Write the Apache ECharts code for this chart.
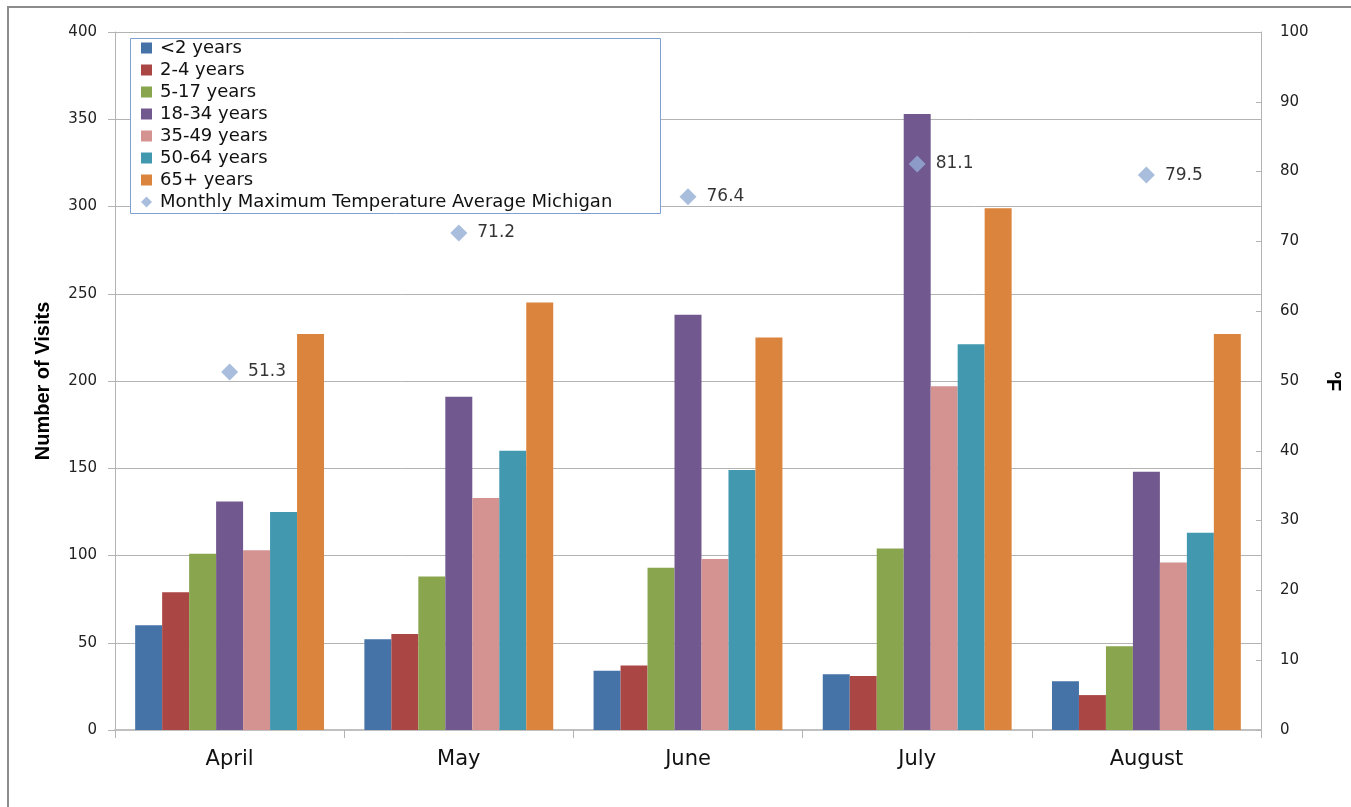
<!DOCTYPE html>
<html>
<head>
<meta charset="utf-8">
<script src="https://cdn.jsdelivr.net/npm/echarts@6/dist/echarts.min.js"></script>
<style>
  html, body { margin: 0; padding: 0; background: #fff; }
  #chart { width: 1351px; height: 807px; }
</style>
</head>
<body>
<div id="chart"></div>
<script>
// Months shown on the category axis
const months = ['April', 'May', 'June', 'July', 'August'];

// Visits per month for each age group
const under2   = [60, 52, 34, 32, 28];
const age2to4  = [79, 55, 37, 31, 20];
const age5to17 = [101, 88, 93, 104, 48];
const age18to34 = [131, 191, 238, 353, 148];
const age35to49 = [103, 133, 98, 197, 96];
const age50to64 = [125, 160, 149, 221, 113];
const age65plus = [227, 245, 225, 299, 227];

// Monthly maximum temperature average (°F)
const maxTemp = [51.3, 71.2, 76.4, 81.1, 79.5];

const groups = [
  { name: '<2 years',    data: under2,    color: '#4572a7' },
  { name: '2-4 years',   data: age2to4,   color: '#aa4643' },
  { name: '5-17 years',  data: age5to17,  color: '#89a54e' },
  { name: '18-34 years', data: age18to34, color: '#71588f' },
  { name: '35-49 years', data: age35to49, color: '#d49390' },
  { name: '50-64 years', data: age50to64, color: '#4198af' },
  { name: '65+ years',   data: age65plus, color: '#db843d' }
];
const tempName = 'Monthly Maximum Temperature Average Michigan';

const gridColor = '#b3b3b3';
const font = 'DejaVu Sans';

const chart = echarts.init(document.getElementById('chart'), null, { renderer: 'canvas' });

const series = groups.map(g => ({
  name: g.name,
  type: 'bar',
  data: g.data,
  itemStyle: { color: g.color },
  barGap: '0%',
  barCategoryGap: '17.6%'
}));

series.push({
  name: tempName,
  type: 'scatter',
  yAxisIndex: 1,
  data: maxTemp,
  symbol: 'diamond',
  symbolSize: 17,
  itemStyle: { color: '#94acd4' },
  label: {
    show: true,
    position: 'right',
    distance: 10,
    fontFamily: font,
    fontSize: 17,
    color: '#000',
    formatter: p => p.value.toFixed(1)
  },
  z: 5
});

chart.setOption({
  animation: false,
  backgroundColor: '#fff',
  textStyle: { fontFamily: font },
  graphic: [
    // outer chart frame
    {
      type: 'rect',
      shape: { x: 8, y: 7, width: 2000, height: 2000 },
      style: { fill: 'none', stroke: '#8c8c8c', lineWidth: 2 },
      z: 1
    },
    // legend panel
    {
      type: 'rect',
      shape: { x: 130.5, y: 38.5, width: 530, height: 175 },
      style: { fill: '#fff', stroke: '#7ea1d4', lineWidth: 1 },
      z: 3
    }
  ],
  legend: {
    orient: 'vertical',
    left: 130,
    top: 38,
    padding: [1, 10, 2, 11],
    itemWidth: 11,
    itemHeight: 11,
    itemGap: 4,
    backgroundColor: 'transparent',
    textStyle: { fontFamily: font, fontSize: 18, color: '#111', lineHeight: 18, padding: [0, 0, 0, 3] },
    data: groups.map(g => ({ name: g.name, icon: 'rect' }))
      .concat([{ name: tempName, icon: 'diamond' }]),
    z: 4
  },
  grid: { left: 115, right: 89, top: 32, bottom: 77 },
  xAxis: {
    type: 'category',
    data: months,
    axisLine: { lineStyle: { color: '#c0c0c0', width: 2 } },
    axisTick: { show: true, alignWithLabel: false, length: 8, lineStyle: { color: gridColor } },
    axisLabel: { fontFamily: font, fontSize: 21, color: '#111', margin: 19 },
    splitLine: { show: false }
  },
  yAxis: [
    {
      type: 'value',
      min: 0, max: 400, interval: 50,
      name: 'Number of Visits',
      nameLocation: 'middle',
      nameGap: 62,
      nameTextStyle: { fontFamily: 'Liberation Sans', fontWeight: 'bold', fontSize: 20, color: '#000' },
      axisLine: { show: true, lineStyle: { color: gridColor } },
      axisTick: { show: true, length: 7, lineStyle: { color: gridColor } },
      axisLabel: { fontFamily: font, fontSize: 15, color: '#222', margin: 18 },
      splitLine: { show: true, lineStyle: { color: gridColor } }
    },
    {
      type: 'value',
      min: 0, max: 100, interval: 10,
      name: '°F',
      nameLocation: 'middle',
      nameGap: 62,
      nameRotate: -90,
      nameTextStyle: { fontFamily: 'Liberation Sans', fontWeight: 'bold', fontSize: 20, color: '#000' },
      position: 'right',
      axisLine: { show: true, lineStyle: { color: gridColor } },
      axisTick: { show: true, inside: true, length: 5, lineStyle: { color: gridColor } },
      axisLabel: { fontFamily: font, fontSize: 15, color: '#222', margin: 19 },
      splitLine: { show: false }
    }
  ],
  series: series
});
</script>
</body>
</html>
